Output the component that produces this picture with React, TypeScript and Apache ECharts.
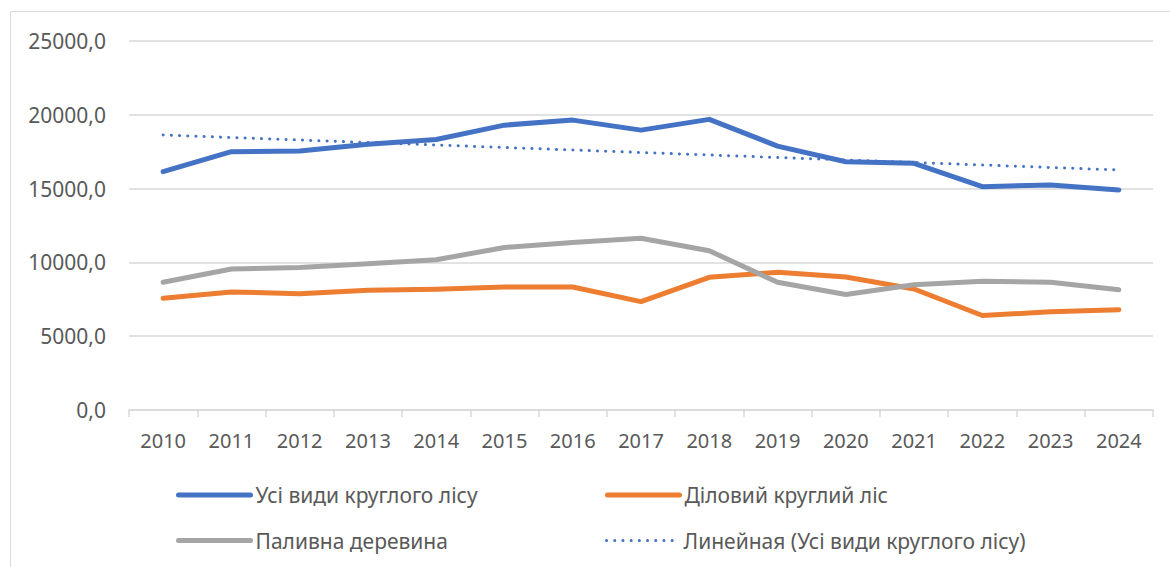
import React, { useEffect, useRef } from "react";
import * as echarts from "echarts";

const years = ["2010","2011","2012","2013","2014","2015","2016","2017","2018","2019","2020","2021","2022","2023","2024"];
const allRoundwood = [16150, 17500, 17540, 18000, 18330, 19300, 19640, 18960, 19690, 17880, 16820, 16710, 15130, 15250, 14910];
const industrialRoundwood = [7570, 8000, 7880, 8110, 8180, 8330, 8330, 7340, 8990, 9330, 9010, 8200, 6400, 6650, 6800];
const fuelwood = [8650, 9550, 9660, 9910, 10180, 11010, 11350, 11640, 10790, 8650, 7820, 8490, 8720, 8650, 8150];
const trendEnds = [18630, 16260];
const yTicks = { min: 0, max: 25000, interval: 5000 };

const names = [
  "Усі види круглого лісу",
  "Діловий круглий ліс",
  "Паливна деревина",
  "Линейная (Усі види круглого лісу)",
];
const colors = ["#4472C4", "#ED7D31", "#A5A5A5", "#4472C4"];

const FONT = "'Noto Sans', 'Open Sans', sans-serif";
const TXT = "#595959";

export default function App() {
  const ref = useRef<HTMLDivElement>(null);
  useEffect(() => {
    if (!ref.current) return;
    const chart = echarts.init(ref.current, null, { renderer: "svg" });
    const trendData = years.map((_, i) =>
      i === 0 ? trendEnds[0] : i === years.length - 1 ? trendEnds[1] : null
    );
    const mkLegend = (idx: number, left: number, top: number) => ({
      data: [names[idx]],
      left,
      top,
      padding: 0,
      itemWidth: 72,
      itemHeight: 20,
      itemGap: 0,
      itemStyle: { opacity: 0 },
      lineStyle:
        idx === 3
          ? { width: 3, color: colors[idx], type: [0.1, 8.1], cap: "round" }
          : { width: 5, color: colors[idx], cap: "round" },
      textStyle: { color: TXT, fontSize: 21, fontFamily: FONT, lineHeight: 20 },
      selectedMode: false,
    });
    const lineCommon = { cap: "round", join: "round" };
    chart.setOption({
      animation: false,
      backgroundColor: "#fff",
      textStyle: { fontFamily: FONT },
      graphic: [
        {
          type: "rect",
          shape: { x: 10.5, y: 11.5, width: 1200, height: 600 },
          style: { fill: "none", stroke: "#d9d9d9", lineWidth: 1 },
          silent: true,
          z: -1,
        },
      ],
      grid: { left: 129, right: 17, top: 41, bottom: 157, containLabel: false },
      legend: [
        mkLegend(0, 176, 484.5),
        mkLegend(1, 605, 484.5),
        mkLegend(2, 176, 530),
        mkLegend(3, 605, 530),
      ],
      xAxis: {
        type: "category",
        data: years,
        boundaryGap: true,
        axisLine: { show: true, lineStyle: { color: "#d9d9d9", width: 1.5 } },
        axisTick: { show: true, length: 7, lineStyle: { color: "#d9d9d9", width: 1.5 } },
        axisLabel: { color: TXT, fontSize: 20, fontFamily: FONT, margin: 20 },
        splitLine: { show: false },
      },
      yAxis: {
        type: "value",
        min: yTicks.min,
        max: yTicks.max,
        interval: yTicks.interval,
        axisLine: { show: false },
        axisTick: { show: false },
        axisLabel: {
          color: TXT,
          fontSize: 21,
          fontFamily: FONT,
          margin: 23,
          formatter: (v: number) => v.toFixed(1).replace(".", ","),
        },
        splitLine: { show: true, lineStyle: { color: "#d9d9d9", width: 1.5 } },
      },
      series: [
        {
          name: names[0],
          type: "line",
          data: allRoundwood,
          symbol: "none",
          color: colors[0],
          lineStyle: { width: 5, color: colors[0], ...lineCommon },
        },
        {
          name: names[1],
          type: "line",
          data: industrialRoundwood,
          symbol: "none",
          color: colors[1],
          lineStyle: { width: 5, color: colors[1], ...lineCommon },
        },
        {
          name: names[2],
          type: "line",
          data: fuelwood,
          symbol: "none",
          color: colors[2],
          lineStyle: { width: 5, color: colors[2], ...lineCommon },
        },
        {
          name: names[3],
          type: "line",
          data: trendData,
          connectNulls: true,
          symbol: "none",
          color: colors[3],
          lineStyle: { width: 3, color: colors[3], type: [0.1, 8.1], cap: "round" },
        },
      ],
    });
    return () => chart.dispose();
  }, []);
  return (
    <div
      ref={ref}
      style={{ position: "fixed", left: 0, top: 0, width: 1170, height: 567 }}
    />
  );
}
